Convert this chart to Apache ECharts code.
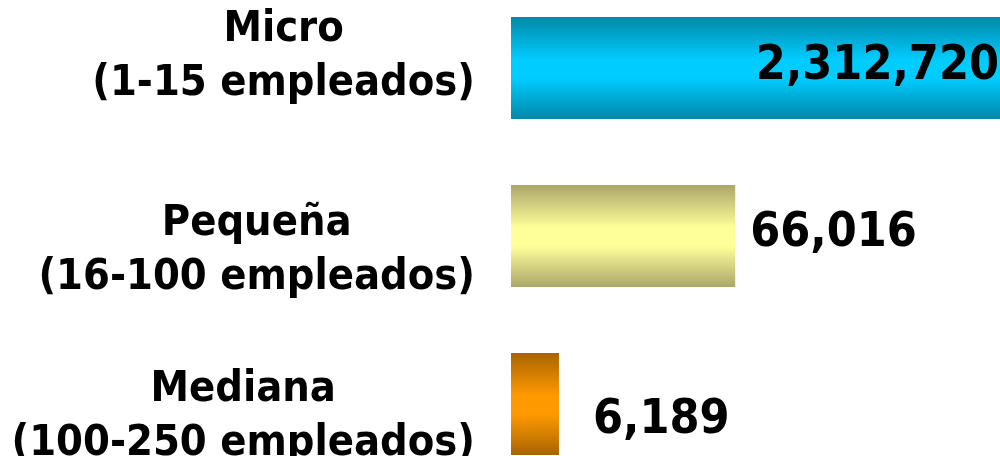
<!DOCTYPE html>
<html>
<head>
<meta charset="utf-8">
<title>Empresas por tamaño</title>
<script src="https://cdn.jsdelivr.net/npm/echarts@6/dist/echarts.min.js"></script>
<style>
  html, body { margin: 0; padding: 0; background: #fff; width: 1000px; height: 456px; overflow: hidden; position: relative; }
  /* el grafico es mas alto que la ventana para separar las barras como en la lamina */
  #chart { position: absolute; left: 0; top: -16px; width: 1000px; height: 504px; }
</style>
</head>
<body>
<div id="chart"></div>
<script>
// categorias y valores (numero de empresas)
var categorias = ['Micro\n(1-15 empleados)', 'Pequeña\n(16-100 empleados)', 'Mediana\n(100-250 empleados)'];
var valores = [2312720, 66016, 6189];
// colores de cada barra: borde, centro
var coloresBorde = ['#0088a8', '#aba66a', '#a86400'];
var coloresCentro = ['#00ccff', '#ffff99', '#ff9900'];

var fuente = 'DejaVu Sans Condensed, DejaVu Sans, sans-serif';

// desplazamiento vertical de cada etiqueta de categoria (px)
var ajuste = [-11, 15, 13];

function degradado(i) {
  return new echarts.graphic.LinearGradient(0, 0, 0, 1, [
    { offset: 0, color: coloresBorde[i] },
    { offset: 0.42, color: coloresCentro[i] },
    { offset: 0.6, color: coloresCentro[i] },
    { offset: 1, color: coloresBorde[i] }
  ]);
}

var rich = {};
ajuste.forEach(function(s, i) {
  rich['a' + i] = { align: 'center', lineHeight: 54 + 2 * s, fontSize: 43, fontWeight: 'bold', fontFamily: fuente, color: '#000' };
  rich['b' + i] = { align: 'center', lineHeight: 54 - 2 * s, fontSize: 43, fontWeight: 'bold', fontFamily: fuente, color: '#000' };
});

var datos = valores.map(function(v, i) {
  var item = {
    value: v,
    itemStyle: { color: degradado(i) },
    label: { position: 'right', distance: 15, offset: [0, -2] }
  };
  if (i === 0) {
    item.label = { position: 'insideRight', distance: 1, offset: [0, -1] };
  }
  if (i === 2) {
    item.label = { position: 'right', distance: 34, offset: [0, 17] };
  }
  return item;
});

var chart = echarts.init(document.getElementById('chart'), null, { renderer: 'canvas' });

var option = {
  animation: false,
  grid: { left: 511, right: 0, top: 0, bottom: 0, containLabel: false },
  xAxis: {
    type: 'log',
    min: 3249,
    max: 2312720,
    show: false
  },
  yAxis: {
    type: 'category',
    inverse: true,
    data: categorias,
    axisLine: { show: false },
    axisTick: { show: false },
    splitLine: { show: false },
    axisLabel: {
      margin: 36,
      align: 'right',
      formatter: function(value, index) {
        var partes = value.split('\n');
        return '{a' + index + '|' + partes[0] + '}\n{b' + index + '|' + partes[1] + '}';
      },
      rich: rich
    }
  },
  series: [{
    type: 'bar',
    clip: true,
    barWidth: 102,
    data: datos,
    label: {
      show: true,
      color: '#000',
      fontFamily: fuente,
      fontWeight: 'bold',
      fontSize: 48,
      formatter: function(p) {
        return p.value.toLocaleString('en-US');
      }
    }
  }]
};

chart.setOption(option);
</script>
</body>
</html>
